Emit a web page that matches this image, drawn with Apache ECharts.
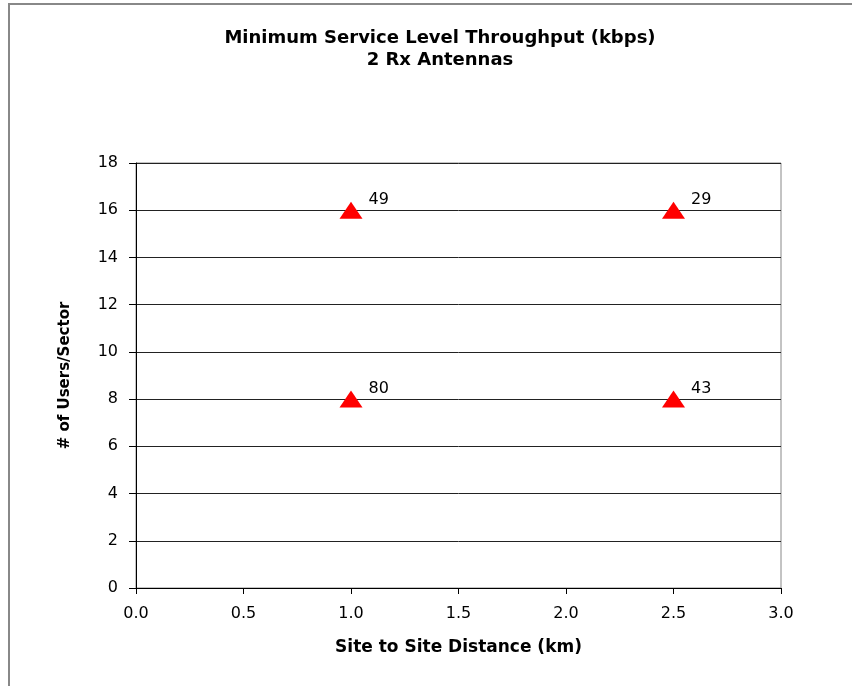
<!DOCTYPE html>
<html>
<head>
<meta charset="utf-8">
<script src="https://cdn.jsdelivr.net/npm/echarts@6/dist/echarts.min.js"></script>
<style>
  html, body { margin: 0; padding: 0; background: #fff; }
  #chart { width: 852px; height: 686px; }
</style>
</head>
<body>
<div id="chart"></div>
<script>
var distances = [1.0, 2.5, 1.0, 2.5];   // km
var users = [16, 16, 8, 8];              // users per sector
var throughput = [49, 29, 80, 43];       // kbps, shown as labels

var points = [];
for (var i = 0; i < distances.length; i++) {
  points.push([distances[i], users[i], throughput[i]]);
}

var chart = echarts.init(document.getElementById("chart"), null, { renderer: "canvas" });
var font = "DejaVu Sans";

var option = {
  animation: false,
  backgroundColor: "#fff",
  title: {
    text: "Minimum Service Level Throughput (kbps)\n2 Rx Antennas",
    left: 440,
    top: 27,
    padding: 0,
    textAlign: "center",
    textStyle: {
      fontFamily: font,
      fontWeight: "bold",
      fontSize: 18,
      lineHeight: 22,
      color: "#000"
    }
  },
  graphic: [
    {
      //外框，只露出上边和左边
      type: "rect",
      shape: { x: 9, y: 4, width: 900, height: 800 },
      style: { fill: "none", stroke: "#888", lineWidth: 2 },
      silent: true
    }
  ],
  grid: {
    left: 136,
    top: 163,
    right: 71,
    bottom: 98,
    show: true,
    borderColor: "#888",
    borderWidth: 1
  },
  xAxis: {
    type: "value",
    min: 0,
    max: 3,
    interval: 0.5,
    name: "Site to Site Distance (km)",
    nameLocation: "middle",
    nameGap: 51,
    nameTextStyle: { fontFamily: font, fontWeight: "bold", fontSize: 17, color: "#000" },
    axisLine: { show: true, lineStyle: { color: "#000", width: 1 } },
    axisTick: { show: true, length: 6, lineStyle: { color: "#000" } },
    axisLabel: {
      margin: 18,
      fontFamily: font,
      fontSize: 16,
      color: "#000",
      formatter: function (v) { return v.toFixed(1); }
    },
    splitLine: { show: false }
  },
  yAxis: {
    type: "value",
    min: 0,
    max: 18,
    interval: 2,
    name: "# of Users/Sector",
    nameLocation: "middle",
    nameGap: 63,
    nameTextStyle: { fontFamily: font, fontWeight: "bold", fontSize: 15, color: "#000" },
    axisLine: { show: true, lineStyle: { color: "#000", width: 1 } },
    axisTick: { show: true, length: 7, lineStyle: { color: "#000" } },
    axisLabel: { margin: 18, fontFamily: font, fontSize: 16, color: "#000" },
    splitLine: { show: true, lineStyle: { color: "#222", width: 1 } }
  },
  series: [
    {
      type: "scatter",
      symbol: "triangle",
      symbolSize: [23, 17],
      itemStyle: { color: "#ff0000", opacity: 1 },
      data: points,
      label: {
        show: true,
        position: "right",
        distance: 6,
        offset: [0, -10],
        fontFamily: font,
        fontSize: 16,
        color: "#000",
        formatter: function (p) { return p.value[2]; }
      }
    }
  ]
};

chart.setOption(option);
</script>
</body>
</html>
